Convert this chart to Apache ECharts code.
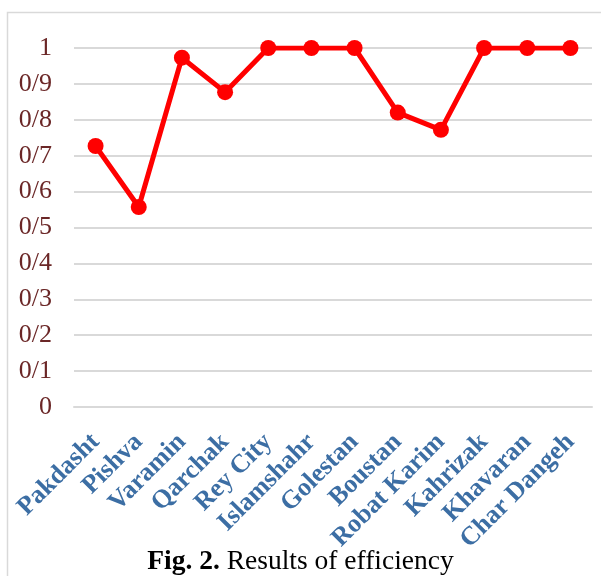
<!DOCTYPE html>
<html><head><meta charset="utf-8">
<script src="https://cdn.jsdelivr.net/npm/echarts@6/dist/echarts.min.js"></script>
<style>html,body{margin:0;padding:0;background:#fff}#c{width:601px;height:576px}</style>
</head><body><div id="c"></div>
<script>
const categories = ["Pakdasht","Pishva","Varamin","Qarchak","Rey City","Islamshahr","Golestan","Boustan","Robat Karim","Kahrizak","Khavaran","Char Dangeh"];
const efficiency = [0.727, 0.557, 0.973, 0.877, 1, 1, 1, 0.82, 0.772, 1, 1, 1];
const yTicks = [0, 0.1, 0.2, 0.3, 0.4, 0.5, 0.6, 0.7, 0.8, 0.9, 1];

const chart = echarts.init(document.getElementById('c'), null, {renderer:'canvas'});
chart.setOption({
  animation:false,
  backgroundColor:'#fff',
  graphic:[
    {type:'rect', shape:{x:7.5,y:12.5,width:700,height:700}, style:{fill:'none',stroke:'#d9d9d9',lineWidth:1.5}, silent:true, z:-1},
    {type:'text', left:'center', top:548, style:{
      rich:{b:{fontFamily:'Liberation Serif',fontWeight:'bold',fontSize:27.5,fill:'#000'},n:{fontFamily:'Liberation Serif',fontSize:27.5,fill:'#000'}},
      text:'{b|Fig. 2.}{n| Results of efficiency}'}}
  ],
  grid:{left:74, right:9, top:48, bottom:169, containLabel:false},
  xAxis:{type:'category', data:categories, boundaryGap:true,
    axisLine:{show:true,lineStyle:{color:'#d9d9d9',width:2}}, axisTick:{show:false},
    axisLabel:{rotate:45, interval:0, margin:31, fontFamily:'Liberation Serif', fontWeight:'bold', fontSize:26, color:'#3c6ea4'}},
  yAxis:{type:'value', min:0, max:1, interval:0.1,
    axisLine:{show:false}, axisTick:{show:false},
    splitLine:{lineStyle:{color:'#d9d9d9',width:2}},
    axisLabel:{margin:22, fontFamily:'Liberation Serif', fontSize:26, color:'#6b2727',
      formatter:v=>{const t=yTicks.find(x=>Math.abs(x-v)<1e-9);return String(Math.round((t??v)*10)/10).replace('.','/');}}},
  series:[{type:'line', data:efficiency, symbol:'circle', symbolSize:16,
    lineStyle:{color:'#ff0000',width:5}, itemStyle:{color:'#ff0000'}}]
});
</script></body></html>
